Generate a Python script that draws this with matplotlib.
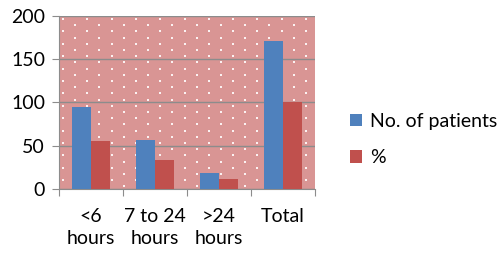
import numpy as np
import matplotlib.pyplot as plt

plt.rcParams['font.family'] = ['Lato', 'DejaVu Sans']

categories = ['<6\nhours', '7 to 24\nhours', '>24\nhours', 'Total']
patients = [95, 57, 19, 171]
percent = [55.6, 33.3, 11.1, 100]

blue = '#4F81BD'
red = '#C0504D'
pink = '#D99594'

fig = plt.figure(figsize=(5, 2.65), dpi=100)
ax = fig.add_axes([0.118, 0.287, 0.512, 0.653])
ax.patch.set_facecolor(pink)

# white dot pattern over the plot area (pixel spacing -> axes fraction)
aw, ah = 256.0, 173.0
dx, dy = [], []
for r, py in enumerate(np.arange(3, ah, 6.2)):
    start = 4 if r % 2 == 0 else 16
    for px in np.arange(start, aw, 24.3):
        dx.append(px / aw)
        dy.append(1 - py / ah)
ax.scatter(dx, dy, s=2.6, marker='s', color='#fbf1f1', linewidths=0,
           transform=ax.transAxes, zorder=0.5)

x = np.arange(len(categories))
w = 0.29
ax.bar(x - w / 2, patients, w, color=blue, label='No. of patients', zorder=3)
ax.bar(x + w / 2, percent, w, color=red, label='%', zorder=3)

ax.set_xlim(-0.5, len(categories) - 0.5)
ax.set_ylim(0, 200)
ax.set_yticks(np.arange(0, 201, 50))
ax.yaxis.grid(True, color='#8c8c8c', linewidth=1, zorder=1)
ax.set_axisbelow(False)

ax.set_xticks(np.arange(-0.5, len(categories), 1))
ax.set_xticklabels([])
ax.set_xticks(x, minor=True)
ax.set_xticklabels(categories, minor=True, fontsize=14, linespacing=1.35)
ax.tick_params(axis='x', which='major', length=5, color='#8c8c8c', direction='out')
ax.tick_params(axis='x', which='minor', length=0, pad=14)
ax.tick_params(axis='y', length=5, color='#8c8c8c', labelsize=14, pad=5)

for s in ['top', 'right']:
    ax.spines[s].set_visible(False)
for s in ['left', 'bottom']:
    ax.spines[s].set_color('#8c8c8c')

ax.legend(loc='center left', bbox_to_anchor=(1.07, 0.285), frameon=False,
          fontsize=14, handlelength=0.6, handleheight=0.6,
          handletextpad=0.4, labelspacing=1.0)

fig.savefig('out.png', dpi=100)
